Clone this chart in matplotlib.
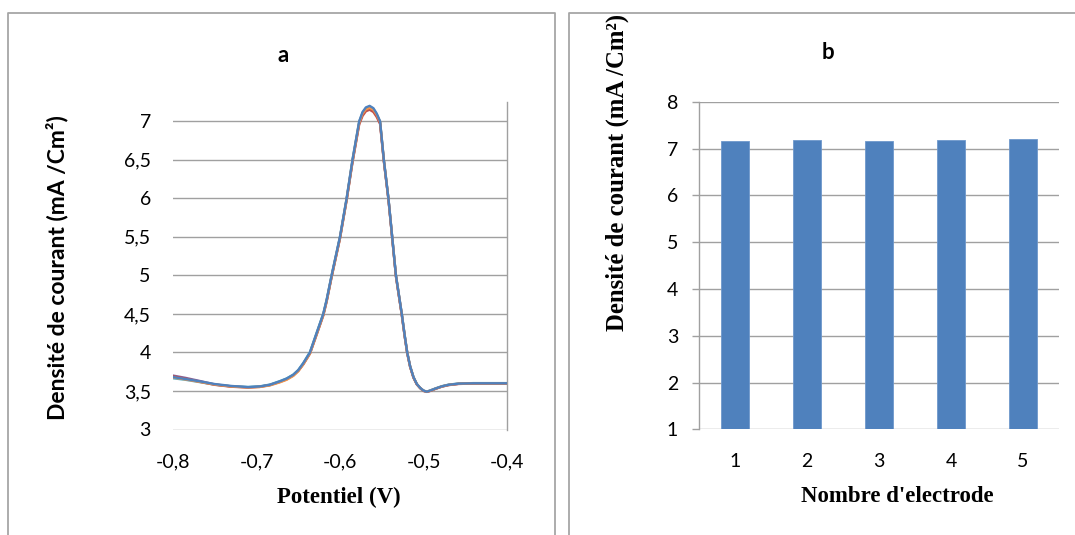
import matplotlib
matplotlib.use("Agg")
import matplotlib.pyplot as plt
from matplotlib.lines import Line2D

# ---- data -------------------------------------------------------------
potential = [-0.800, -0.785, -0.768, -0.750, -0.730, -0.710, -0.696, -0.684, -0.672, -0.664,
             -0.656, -0.650, -0.644, -0.636, -0.628, -0.620, -0.616, -0.610, -0.605, -0.600,
             -0.592, -0.585, -0.577, -0.573, -0.569, -0.5645, -0.560, -0.556, -0.552, -0.5475,
             -0.542, -0.5375, -0.533, -0.5295, -0.526, -0.5225, -0.5195, -0.516, -0.512, -0.508,
             -0.504, -0.500, -0.496, -0.492, -0.486, -0.478, -0.470, -0.458, -0.440, -0.420,
             -0.400]

current_e1 = [3.700, 3.670, 3.630, 3.585, 3.560, 3.548, 3.556, 3.578, 3.620, 3.655,
              3.705, 3.765, 3.850, 3.990, 4.240, 4.490, 4.670, 4.990, 5.240, 5.490,
              5.990, 6.480, 6.975, 7.090, 7.150, 7.170, 7.140, 7.075, 6.980, 6.490,
              5.990, 5.490, 4.990, 4.740, 4.490, 4.210, 3.995, 3.815, 3.675, 3.588,
              3.538, 3.503, 3.490, 3.503, 3.528, 3.558, 3.578, 3.593, 3.598, 3.598,
              3.598]
current_e2 = [3.665, 3.645, 3.615, 3.582, 3.560, 3.552, 3.560, 3.583, 3.628, 3.662,
              3.712, 3.772, 3.862, 4.005, 4.255, 4.505, 4.685, 5.005, 5.255, 5.505,
              6.005, 6.505, 6.995, 7.110, 7.170, 7.190, 7.160, 7.090, 6.995, 6.500,
              6.000, 5.500, 5.000, 4.750, 4.500, 4.220, 4.000, 3.820, 3.680, 3.590,
              3.540, 3.505, 3.492, 3.507, 3.532, 3.562, 3.582, 3.597, 3.602, 3.602,
              3.602]
current_e3 = [3.690, 3.660, 3.620, 3.580, 3.555, 3.545, 3.553, 3.576, 3.618, 3.650,
              3.700, 3.760, 3.845, 3.985, 4.230, 4.480, 4.660, 4.980, 5.230, 5.480,
              5.980, 6.470, 6.960, 7.070, 7.130, 7.150, 7.120, 7.055, 6.965, 6.480,
              5.985, 5.485, 4.985, 4.735, 4.485, 4.205, 3.990, 3.812, 3.672, 3.585,
              3.536, 3.500, 3.488, 3.500, 3.526, 3.556, 3.576, 3.591, 3.597, 3.597,
              3.597]
current_e4 = [3.675, 3.650, 3.618, 3.584, 3.558, 3.546, 3.552, 3.572, 3.612, 3.645,
              3.695, 3.755, 3.845, 3.985, 4.235, 4.485, 4.665, 4.985, 5.235, 5.485,
              5.985, 6.485, 6.980, 7.100, 7.155, 7.175, 7.150, 7.085, 6.990, 6.495,
              5.995, 5.495, 4.995, 4.745, 4.495, 4.215, 3.997, 3.818, 3.678, 3.589,
              3.539, 3.504, 3.490, 3.504, 3.529, 3.559, 3.579, 3.594, 3.599, 3.599,
              3.599]
current_e5 = [3.680, 3.655, 3.625, 3.590, 3.565, 3.550, 3.558, 3.580, 3.625, 3.660,
              3.710, 3.770, 3.860, 4.000, 4.250, 4.500, 4.680, 5.000, 5.250, 5.500,
              6.000, 6.500, 7.000, 7.120, 7.180, 7.200, 7.170, 7.100, 7.000, 6.500,
              6.000, 5.500, 5.000, 4.750, 4.500, 4.220, 4.000, 3.820, 3.680, 3.590,
              3.540, 3.505, 3.490, 3.505, 3.530, 3.560, 3.580, 3.595, 3.600, 3.600,
              3.600]

electrodes = [1, 2, 3, 4, 5]
peak_density = [7.17, 7.19, 7.15, 7.175, 7.20]

x_ticks_a = [-0.8, -0.7, -0.6, -0.5, -0.4]
x_labels_a = ["-0,8", "-0,7", "-0,6", "-0,5", "-0,4"]
y_ticks_a = [3, 3.5, 4, 4.5, 5, 5.5, 6, 6.5, 7]
y_labels_a = ["3", "3,5", "4", "4,5", "5", "5,5", "6", "6,5", "7"]
y_ticks_b = [1, 2, 3, 4, 5, 6, 7, 8]

# ---- style ------------------------------------------------------------
W, H = 1075, 535
GRID = "#A0A0A0"
FRAME = "#A6A6A6"
SANS = "Lato"
SERIF = "Liberation Serif"
TICK_SIZE = 14

fig = plt.figure(figsize=(W / 100, H / 100), dpi=100)


def fx(px):
    return px / W


def fy(py):
    return 1 - py / H


# panel frames
for xs, ys in [([8, 8, 555, 555], [H + 5, 13, 13, H + 5]),
               ([569, 569, W + 5], [H + 5, 13, 13])]:
    fig.add_artist(Line2D([fx(v) for v in xs], [fy(v) for v in ys],
                          color=FRAME, lw=1.3, transform=fig.transFigure))

# ---- panel a: voltammograms -------------------------------------------
ax1 = fig.add_axes([fx(173), fy(429.5), fx(507) - fx(173), fy(102) - fy(429.5)])
line_colors = ["#8064A2", "#4BACC6", "#C0504D", "#F79646", "#4F81BD"]
for cur, col in zip([current_e1, current_e2, current_e3, current_e4, current_e5], line_colors):
    ax1.plot(potential, cur, color=col, lw=1.7, solid_capstyle="round",
             solid_joinstyle="round", zorder=3)

ax1.set_xlim(-0.8, -0.4)
ax1.set_ylim(3, 7.25)
ax1.set_xticks(x_ticks_a, x_labels_a)
ax1.set_yticks(y_ticks_a, y_labels_a)
ax1.grid(axis="y", color=GRID, lw=1.0)
ax1.set_axisbelow(True)
for s in ["left", "top", "bottom"]:
    ax1.spines[s].set_visible(False)
ax1.spines["right"].set_color(GRID)
ax1.spines["right"].set_linewidth(1.0)
ax1.tick_params(axis="both", length=0, labelsize=TICK_SIZE)
ax1.tick_params(axis="y", pad=16)
ax1.tick_params(axis="x", pad=17)
for t in ax1.get_xticklabels() + ax1.get_yticklabels():
    t.set_fontfamily(SANS)

fig.text(fx(283), fy(55), "a", ha="center", va="center", fontsize=16,
         fontweight="bold", family=SANS)
fig.text(fx(57), fy(268), "Densité de courant (mA /Cm²)", ha="center", va="center",
         rotation=90, fontsize=16.5, fontweight="bold", family=SANS)
fig.text(fx(339), fy(497), "Potentiel (V)", ha="center", va="center", fontsize=16.5,
         fontweight="bold", family=SERIF)

# ---- panel b: peak current per electrode ------------------------------
ax2 = fig.add_axes([fx(699), fy(429.3), fx(1059) - fx(699), fy(101.7) - fy(429.3)])
ax2.bar(electrodes, [v - 1 for v in peak_density], bottom=1, width=0.4,
        color="#4F81BD", edgecolor="#6E98CC", linewidth=0.6, zorder=3)
ax2.set_xlim(0.5, 5.5)
ax2.set_ylim(1, 8)
ax2.set_xticks(electrodes)
ax2.set_yticks(y_ticks_b)
ax2.grid(axis="y", color=GRID, lw=1.0)
ax2.set_axisbelow(True)
for s in ["right", "top", "bottom"]:
    ax2.spines[s].set_visible(False)
ax2.spines["left"].set_color(GRID)
ax2.spines["left"].set_linewidth(1.0)
ax2.tick_params(axis="y", length=5, width=1.0, color=GRID, labelsize=TICK_SIZE, pad=10)
ax2.tick_params(axis="x", length=0, labelsize=TICK_SIZE, pad=17)
for t in ax2.get_xticklabels() + ax2.get_yticklabels():
    t.set_fontfamily(SANS)

fig.text(fx(828), fy(52), "b", ha="center", va="center", fontsize=16,
         fontweight="bold", family=SANS)
fig.text(fx(617), fy(172), "Densité de courant (mA /Cm²)", ha="center", va="center",
         rotation=90, fontsize=17.8, fontweight="bold", family=SERIF)
fig.text(fx(897), fy(497), "Nombre d'electrode", ha="center", va="center", fontsize=16.5,
         fontweight="bold", family=SERIF)

fig.savefig("out.png", dpi=100)
